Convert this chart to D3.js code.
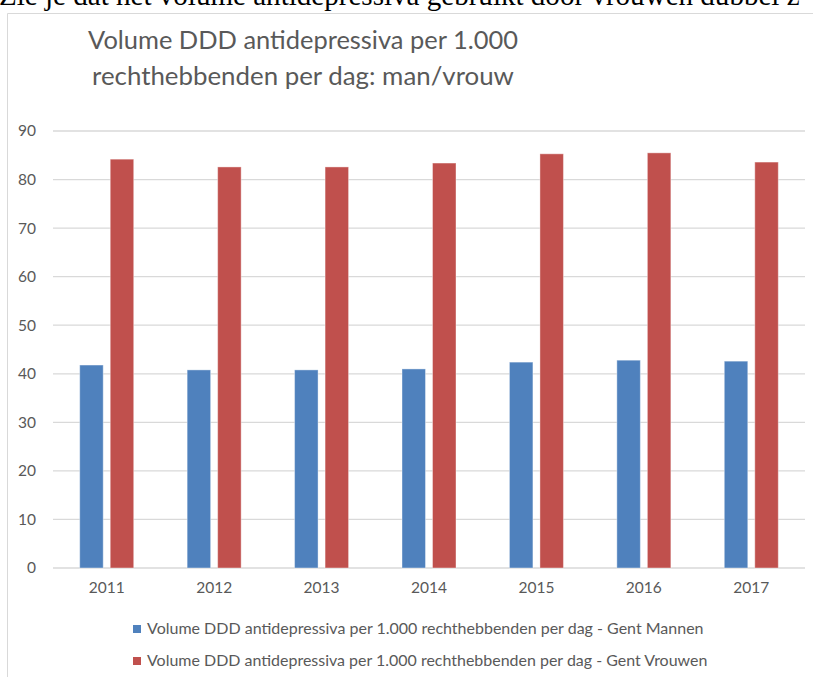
<!DOCTYPE html>
<html>
<head>
<meta charset="utf-8">
<script src="https://cdn.jsdelivr.net/npm/d3@7"></script>
<style>
  body { margin: 0; background: #fff; overflow: hidden; }
  text { font-family: Lato, "Open Sans", sans-serif; }
</style>
</head>
<body>
<div id="chart"></div>
<script>
// data
const years = ["2011", "2012", "2013", "2014", "2015", "2016", "2017"];
const mannen = [41.8, 40.8, 40.8, 41.0, 42.4, 42.8, 42.6];
const vrouwen = [84.2, 82.6, 82.6, 83.4, 85.3, 85.5, 83.6];
const seriesNames = [
  "Volume DDD antidepressiva per 1.000 rechthebbenden per dag  - Gent Mannen",
  "Volume DDD antidepressiva per 1.000 rechthebbenden per dag  - Gent Vrouwen"
];
const seriesColors = ["#4f81bd", "#c0504d"];
const yTicks = [0, 10, 20, 30, 40, 50, 60, 70, 80, 90];
const titleLines = ["Volume DDD antidepressiva per 1.000", "rechthebbenden per dag: man/vrouw"];
const captionText = "Zie je dat het volume antidepressiva gebruikt door vrouwen dubbel z";

const W = 813, H = 677;
const svg = d3.select("#chart").append("svg")
    .attr("width", W)
    .attr("height", H);

// scale a text's font size until it spans the wanted width
function fitWidth(sel, target) {
    const fs = parseFloat(sel.attr("font-size"));
    const w = sel.node().getComputedTextLength();
    sel.attr("font-size", fs * target / w);
}

// cut off sentence from the page above the chart
const caption = svg.append("text")
    .attr("x", -1)
    .attr("y", 5)
    .attr("font-size", 22)
    .style("font-family", "'Liberation Serif', serif")
    .attr("fill", "#000")
    .text(captionText);
fitWidth(caption, 801);

// chart frame (only top and left edges visible)
svg.append("path")
    .attr("d", "M7.5," + H + "V13.5H" + W)
    .attr("fill", "none")
    .attr("stroke", "#d9d9d9")
    .attr("stroke-width", 1);

// title
titleLines.forEach(function(t, i) {
    const tt = svg.append("text")
        .attr("x", 303)
        .attr("y", 49 + i * 36)
        .attr("text-anchor", "middle")
        .attr("font-size", 27)
        .attr("fill", "#595959")
        .text(t);
    fitWidth(tt, i === 0 ? 430 : 422);
});

const margin = {left: 53, right: 8, top: 131, bottom: 109};

const x = d3.scaleBand()
    .domain(years)
    .range([margin.left, W - margin.right]);

const x1 = d3.scaleBand()
    .domain([0, 1])
    .range([-27, 27])
    .paddingInner(0.23);

const y = d3.scaleLinear()
    .domain([0, 90])
    .range([H - margin.bottom, margin.top]);

// grid
svg.append("g")
    .selectAll("line")
    .data(yTicks)
    .enter().append("line")
    .attr("x1", margin.left)
    .attr("x2", W - margin.right)
    .attr("y1", function(d) { return y(d); })
    .attr("y2", function(d) { return y(d); })
    .attr("stroke", "#d9d9d9")
    .attr("stroke-width", 1.3);

// y axis labels
const yAxis = svg.append("g")
    .attr("transform", "translate(" + (margin.left - 17) + ",0)")
    .call(d3.axisLeft(y).tickValues(yTicks).tickSize(0).tickPadding(0));
yAxis.select(".domain").remove();
yAxis.selectAll("text")
    .attr("font-family", "Lato, sans-serif")
    .attr("font-size", 15.5)
    .attr("fill", "#595959");

// x axis labels
const xAxis = svg.append("g")
    .attr("transform", "translate(0," + y(0) + ")")
    .call(d3.axisBottom(x).tickSize(0).tickPadding(14));
xAxis.select(".domain").remove();
xAxis.selectAll("text")
    .attr("font-family", "Lato, sans-serif")
    .attr("font-size", 15.5)
    .attr("fill", "#595959");

// bars
const rows = years.map(function(yr, i) {
    return {year: yr, vals: [mannen[i], vrouwen[i]]};
});

svg.append("g")
    .selectAll("g")
    .data(rows)
    .enter().append("g")
    .attr("transform", function(d) { return "translate(" + (x(d.year) + x.bandwidth() / 2) + ",0)"; })
    .selectAll("rect")
    .data(function(d) { return d.vals.map(function(v, k) { return {k: k, v: v}; }); })
    .enter().append("rect")
    .attr("x", function(d) { return x1(d.k); })
    .attr("width", x1.bandwidth())
    .attr("y", function(d) { return y(d.v); })
    .attr("height", function(d) { return y(0) - y(d.v); })
    .attr("fill", function(d) { return seriesColors[d.k]; })
    .attr("stroke", "#ffffff")
    .attr("stroke-opacity", 0.4)
    .attr("stroke-width", 1);

// legend
const legend = svg.append("g");
seriesNames.forEach(function(name, i) {
    const cy = 629 + i * 32;
    legend.append("rect")
        .attr("x", 133)
        .attr("y", cy - 4)
        .attr("width", 8)
        .attr("height", 8)
        .attr("fill", seriesColors[i]);
    const lt = legend.append("text")
        .attr("x", 147)
        .attr("y", cy + 5)
        .attr("font-size", 13.5)
        .attr("fill", "#595959")
        .text(name);
    fitWidth(lt, i === 0 ? 557 : 561);
});
</script>
</body>
</html>
